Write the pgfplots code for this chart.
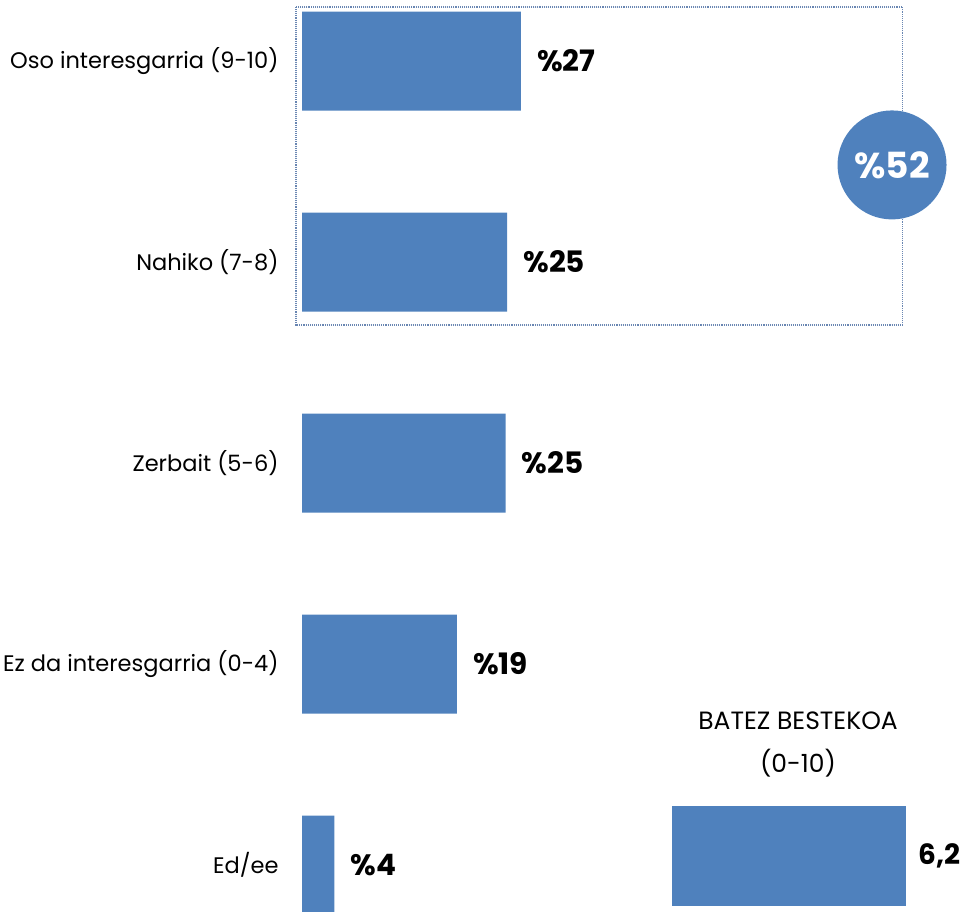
\documentclass[border=0pt]{standalone}
\usepackage{fontspec}
\setmainfont{Poppins}
\usepackage{pgfplots}
\pgfplotsset{compat=1.18}

\definecolor{barblue}{HTML}{4F81BD}
\definecolor{boxline}{RGB}{105,134,178}

\begin{document}
\begin{tikzpicture}
  \path[use as bounding box] (0pt,0pt) rectangle (966pt,911pt);

  % main distribution
  \begin{axis}[
      at={(302pt,0pt)}, anchor=south west,
      scale only axis, width=664pt, height=911pt,
      xmin=0, xmax=81.87,
      ymin=-0.3035, ymax=4.2289, y dir=reverse,
      xbar, bar width=99pt,
      axis line style={draw=none}, tick style={draw=none},
      xtick=\empty,
      ytick={0,1,2,3,4},
      yticklabels={{Oso interesgarria (9-10)},{Nahiko (7-8)},{Zerbait (5-6)},{Ez da interesgarria (0-4)},{Ed/ee}},
      yticklabel style={anchor=east, inner sep=0pt, xshift=-19pt, font=\fontsize{22.5}{26}\selectfont},
      clip=false,
      point meta=explicit symbolic,
      nodes near coords={\textbf{\%\pgfplotspointmeta}},
      nodes near coords style={anchor=west, inner sep=0pt, xshift=16pt, font=\fontsize{29.5}{34}\selectfont, black},
    ]
    \addplot[fill=barblue, draw=none] coordinates {
      (27.0,0) [27]
      (25.3,1) [25]
      (25.1,2) [25]
      (19.1,3) [19]
      (4.0,4)  [4]
    };
    \draw[boxline, densely dotted, line width=1.1pt]
      (axis cs:-0.74,-0.2687) rectangle (axis cs:74.04,1.3134);
    \fill[barblue] (axis cs:72.75,0.517) circle[radius=54.5pt];
    \node[white, font=\fontsize{36}{40}\selectfont\bfseries] at (axis cs:72.75,0.517) {\%52};
  \end{axis}

  % mean score
  \begin{axis}[
      at={(672pt,0pt)}, anchor=south west,
      scale only axis, width=294pt, height=911pt,
      xmin=0, xmax=7.79,
      ymin=-8.56, ymax=0.55, y dir=reverse,
      xbar, bar width=100pt,
      axis line style={draw=none}, tick style={draw=none},
      xtick=\empty, ytick=\empty,
      clip=false,
      nodes near coords={\textbf{6,2}},
      nodes near coords style={anchor=west, inner sep=0pt, xshift=12pt, font=\fontsize{28}{34}\selectfont, black},
    ]
    \addplot[fill=barblue, draw=none] coordinates {(6.2,0)};
    \node[align=center, font=\fontsize{25}{43}\selectfont, anchor=center]
      at (axis cs:3.34,-1.12) {BATEZ BESTEKOA\\(0-10)};
  \end{axis}
\end{tikzpicture}
\end{document}
